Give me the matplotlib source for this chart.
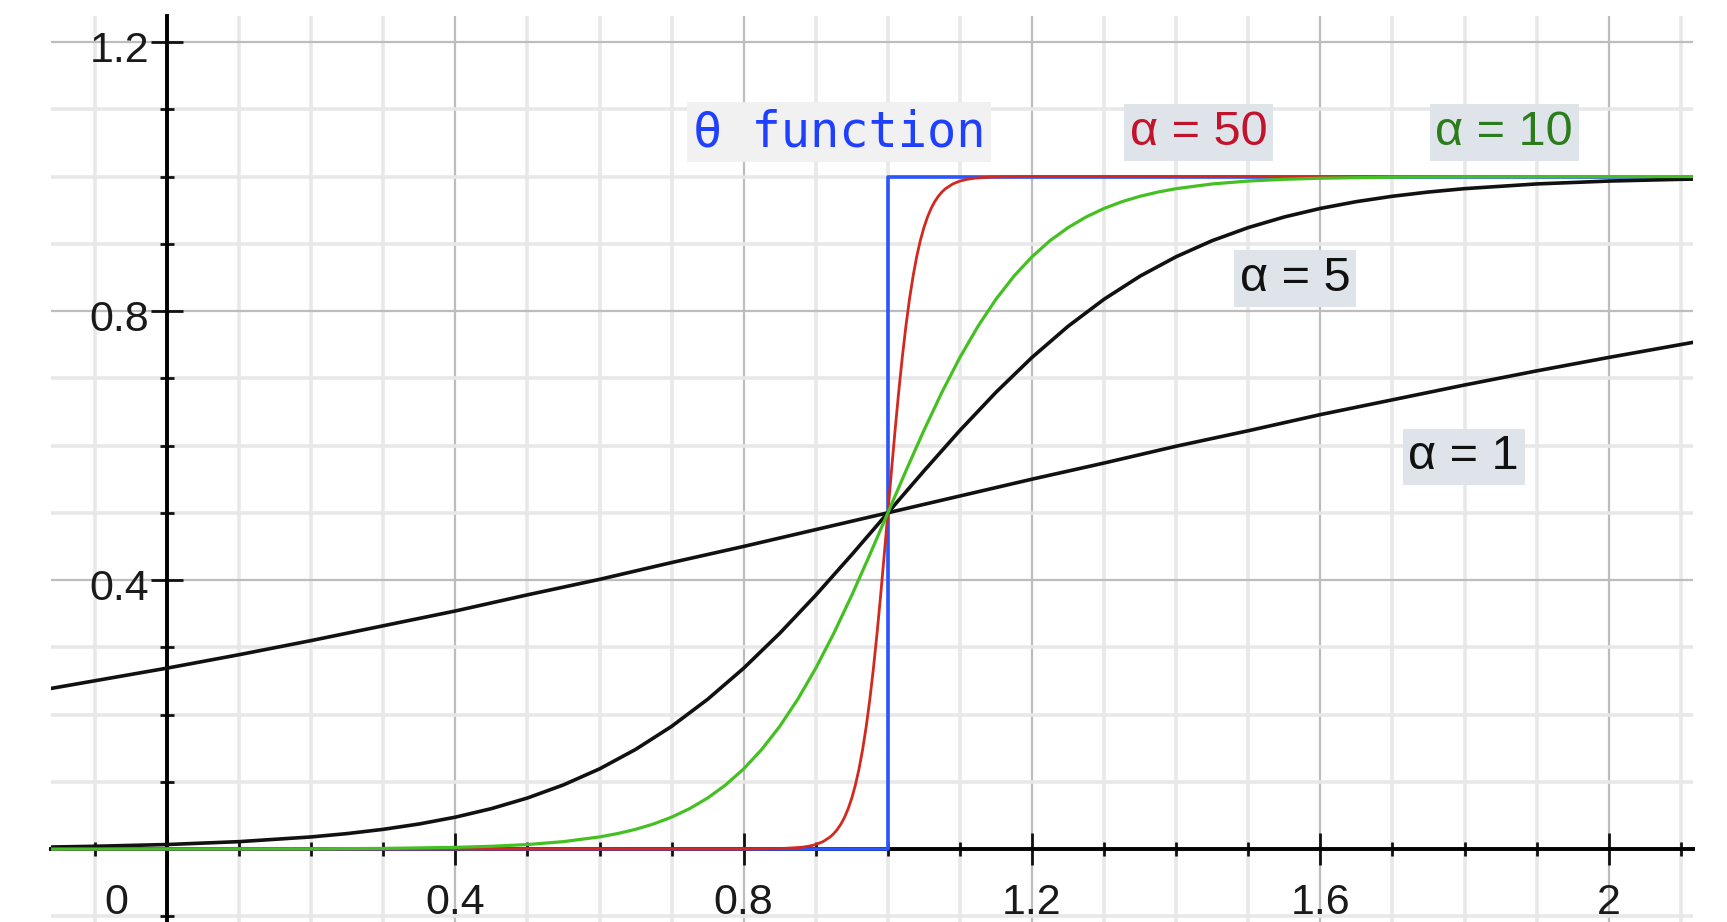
# 로지스틱 함수(α 값에 따라)와 θ 계단 함수 비교 그래프
import matplotlib.pyplot as plt
from matplotlib.ticker import MultipleLocator

# θ 함수 (계단)
theta_x = [-0.16, 1.0, 1.0, 2.12]
theta_y = [0.0, 0.0, 1.0, 1.0]

# α = 1
a1_x = [-0.16, 0.0, 0.1, 0.2, 0.3, 0.4, 0.5, 0.6, 0.7, 0.8, 0.9, 1.0,
        1.1, 1.2, 1.3, 1.4, 1.5, 1.6, 1.7, 1.8, 1.9, 2.0, 2.12]
a1_y = [0.239, 0.269, 0.289, 0.310, 0.332, 0.354, 0.378, 0.401, 0.426, 0.450, 0.475, 0.500,
        0.525, 0.550, 0.574, 0.599, 0.622, 0.646, 0.668, 0.690, 0.711, 0.731, 0.754]

# α = 5
a5_x = [-0.16, -0.1, 0.0, 0.1, 0.2, 0.25, 0.3, 0.35, 0.4, 0.45, 0.5, 0.55, 0.6, 0.65, 0.7, 0.75,
        0.8, 0.85, 0.9, 0.95, 1.0, 1.05, 1.1, 1.15, 1.2, 1.25, 1.3, 1.35, 1.4, 1.45, 1.5, 1.55,
        1.6, 1.65, 1.7, 1.75, 1.8, 1.9, 2.0, 2.1, 2.12]
a5_y = [0.0030, 0.0041, 0.0067, 0.0110, 0.0180, 0.0230, 0.0293, 0.0373, 0.0474, 0.0601, 0.0759, 0.0954,
        0.1192, 0.1481, 0.1824, 0.2227, 0.2689, 0.3208, 0.3775, 0.4378, 0.5, 0.5622, 0.6225, 0.6792,
        0.7311, 0.7773, 0.8176, 0.8520, 0.8808, 0.9047, 0.9241, 0.9399, 0.9526, 0.9627, 0.9707, 0.9770,
        0.9820, 0.9890, 0.9933, 0.9959, 0.9963]

# α = 10
a10_x = [-0.16, 0.0, 0.2, 0.3, 0.4, 0.45, 0.5, 0.55, 0.6, 0.625, 0.65, 0.675, 0.7, 0.725, 0.75, 0.775,
         0.8, 0.825, 0.85, 0.875, 0.9, 0.925, 0.95, 0.975, 1.0, 1.025, 1.05, 1.075, 1.1, 1.125, 1.15,
         1.175, 1.2, 1.225, 1.25, 1.275, 1.3, 1.325, 1.35, 1.375, 1.4, 1.45, 1.5, 1.55, 1.6, 1.7, 1.8, 2.12]
a10_y = [0.0, 0.0001, 0.0003, 0.0009, 0.0025, 0.0041, 0.0067, 0.0110, 0.0180, 0.0230, 0.0293, 0.0373,
         0.0474, 0.0601, 0.0759, 0.0954, 0.1192, 0.1481, 0.1824, 0.2227, 0.2689, 0.3208, 0.3775, 0.4378,
         0.5, 0.5622, 0.6225, 0.6792, 0.7311, 0.7773, 0.8176, 0.8520, 0.8808, 0.9047, 0.9241, 0.9399,
         0.9526, 0.9627, 0.9707, 0.9770, 0.9820, 0.9890, 0.9933, 0.9959, 0.9975, 0.9991, 0.9997, 1.0]

# α = 50
a50_x = [-0.16, 0.8, 0.85, 0.88, 0.89, 0.9, 0.91, 0.92, 0.925, 0.93, 0.935, 0.94, 0.945, 0.95, 0.955,
         0.96, 0.965, 0.97, 0.975, 0.98, 0.985, 0.99, 0.995, 1.0, 1.005, 1.01, 1.015, 1.02, 1.025, 1.03,
         1.035, 1.04, 1.045, 1.05, 1.055, 1.06, 1.065, 1.07, 1.075, 1.08, 1.09, 1.1, 1.11, 1.12, 1.14,
         1.16, 1.2, 2.12]
a50_y = [0.0, 0.0, 0.0006, 0.0025, 0.0041, 0.0067, 0.0110, 0.0180, 0.0230, 0.0293, 0.0373, 0.0474,
         0.0601, 0.0759, 0.0954, 0.1192, 0.1481, 0.1824, 0.2227, 0.2689, 0.3208, 0.3775, 0.4378, 0.5,
         0.5622, 0.6225, 0.6792, 0.7311, 0.7773, 0.8176, 0.8520, 0.8808, 0.9047, 0.9241, 0.9399, 0.9526,
         0.9627, 0.9707, 0.9770, 0.9820, 0.9890, 0.9933, 0.9959, 0.9975, 0.9991, 0.9997, 1.0, 1.0]

# 눈금 레이블
xtick_vals = [0.4, 0.8, 1.2, 1.6, 2.0]
xtick_labels = ['0.4', '0.8', '1.2', '1.6', '2']
ytick_vals = [0.4, 0.8, 1.2]
ytick_labels = ['0.4', '0.8', '1.2']

# 곡선 레이블 (텍스트, 위치, 색)
labels = [
    ('α = 50', 1.431, 1.066, '#c3122c'),
    ('α = 10', 1.855, 1.066, '#2b7d1c'),
    ('α = 5', 1.565, 0.848, '#111111'),
    ('α = 1', 1.799, 0.583, '#111111'),
]

plt.rcParams['font.family'] = ['Liberation Sans', 'DejaVu Sans']

fig = plt.figure(figsize=(17.27, 9.22), dpi=100)
ax = fig.add_axes([51 / 1727, 0, (1693 - 51) / 1727, 1 - 16.5 / 922])
ax.set_xlim(-0.161, 2.117)
ax.set_ylim(-0.1085, 1.238)

# 그리드
ax.xaxis.set_major_locator(MultipleLocator(0.4))
ax.xaxis.set_minor_locator(MultipleLocator(0.1))
ax.yaxis.set_major_locator(MultipleLocator(0.4))
ax.yaxis.set_minor_locator(MultipleLocator(0.1))
ax.set_axisbelow(True)
ax.grid(which='minor', color='#e8e8e8', linewidth=2.6)
ax.grid(which='major', color='#bdbdbd', linewidth=1.6)

# 축을 원점으로
for side in ['top', 'right']:
    ax.spines[side].set_visible(False)
ax.spines['left'].set_position(('data', 0))
ax.spines['bottom'].set_position(('data', 0))
ax.spines['left'].set_linewidth(2.8)
ax.spines['bottom'].set_linewidth(2.8)
ax.tick_params(which='major', direction='inout', length=23, width=2, color='#111111',
               labelbottom=False, labelleft=False)
ax.tick_params(which='minor', direction='inout', length=10, width=2, color='#111111')

# 곡선
ax.plot(theta_x, theta_y, color='#2a55ff', linewidth=2.6, zorder=3)
ax.plot(a50_x, a50_y, color='#d2281e', linewidth=2.0, zorder=4, solid_joinstyle='round')
ax.plot(a1_x, a1_y, color='#111111', linewidth=2.6, zorder=5, solid_joinstyle='round')
ax.plot(a5_x, a5_y, color='#111111', linewidth=2.6, zorder=5, solid_joinstyle='round')
ax.plot(a10_x, a10_y, color='#45c022', linewidth=2.3, zorder=6, solid_joinstyle='round')

# 눈금 레이블
for v, s in zip(xtick_vals, xtick_labels):
    ax.text(v, -0.08, s, fontsize=31, color='#1a1a1a', ha='center', va='center')
ax.text(-0.071, -0.08, '0', fontsize=31, color='#1a1a1a', ha='center', va='center')
for v, s in zip(ytick_vals, ytick_labels):
    ax.text(-0.025, v - 0.013, s, fontsize=31, color='#1a1a1a', ha='right', va='center')

# 곡선 레이블
ax.text(0.932, 1.066, 'θ function', fontsize=35, color='#2040ff', family='DejaVu Sans Mono',
        ha='center', va='center', zorder=7,
        bbox=dict(boxstyle='square,pad=0.12', fc='#f1f1f1', ec='none'))
for s, x, y, c in labels:
    ax.text(x, y, s, fontsize=35, color=c, ha='center', va='center', zorder=7,
            bbox=dict(boxstyle='square,pad=0.12', fc='#dfe3ea', ec='none'))

plt.savefig('out.png', dpi=100)
